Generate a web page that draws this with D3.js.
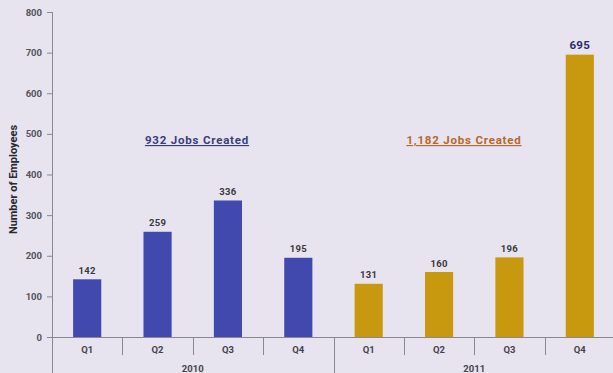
<!DOCTYPE html>
<html>
<head>
<meta charset="utf-8">
<script src="https://cdn.jsdelivr.net/npm/d3@7"></script>
<style>
  html, body { margin: 0; padding: 0; background: #e7e4ef; }
  svg { display: block; }
  text { font-family: "Roboto", "DejaVu Sans", sans-serif; }
</style>
</head>
<body>
<svg id="chart" width="613" height="373"></svg>
<script>
// Jobs created per quarter
const years = ["2010", "2011"];
const quarters = ["Q1", "Q2", "Q3", "Q4"];
const jobs2010 = [142, 259, 336, 195];
const jobs2011 = [131, 160, 196, 695];
const yTicks = [0, 100, 200, 300, 400, 500, 600, 700, 800];
const totals = ["932 Jobs Created", "1,182 Jobs Created"];
const yearColors = ["#4148ae", "#c8990f"];
const totalColors = ["#3b3d7c", "#b4682b"];

const rows = [];
years.forEach((yr, i) => {
  const vals = i === 0 ? jobs2010 : jobs2011;
  quarters.forEach((q, j) => rows.push({ key: yr + "-" + q, year: yr, yi: i, q, value: vals[j] }));
});
const maxVal = d3.max(rows, r => r.value);

const svg = d3.select("#chart");
const plotLeft = 52, plotRight = 615, plotTop = 12, plotBase = 337;

const x = d3.scaleBand().domain(rows.map(d => d.key)).range([plotLeft, plotRight]).paddingInner(0.6).paddingOuter(0.3);
const xb = d3.scaleBand().domain(rows.map(d => d.key)).range([plotLeft, plotRight]);
const y = d3.scaleLinear().domain([0, 800]).range([plotBase, plotTop]);

// y axis
const yAxis = svg.append("g").attr("transform", `translate(${plotLeft},0)`)
  .call(d3.axisLeft(y).tickValues(yTicks).tickSize(5).tickPadding(5));
yAxis.select(".domain").remove();
yAxis.selectAll(".tick line").attr("stroke", "#8a8790");
yAxis.selectAll(".tick text").attr("fill", "#55535c").attr("font-size", 9.5).attr("font-weight", 700);
svg.append("line").attr("x1", plotLeft + 0.5).attr("x2", plotLeft + 0.5).attr("y1", plotTop).attr("y2", 373)
  .attr("stroke", "#8a8790").attr("stroke-width", 1);

svg.append("text")
  .attr("transform", `translate(17,${(plotTop + plotBase) / 2 + 5}) rotate(-90)`)
  .attr("text-anchor", "middle").attr("font-size", 11).attr("font-weight", 700).attr("fill", "#2a2930")
  .text("Number of Employees");

// baseline and quarter separators
svg.append("line").attr("x1", plotLeft).attr("x2", 613).attr("y1", plotBase + 0.5).attr("y2", plotBase + 0.5)
  .attr("stroke", "#8a8790");
rows.forEach((d, i) => {
  if (i === 0) return;
  const sx = Math.round(xb(d.key)) + 0.5;
  svg.append("line").attr("x1", sx).attr("x2", sx).attr("y1", plotBase)
    .attr("y2", d.q === "Q1" ? 373 : 355).attr("stroke", "#8a8790");
});

// bars
svg.selectAll("rect.bar").data(rows).join("rect").attr("class", "bar")
  .attr("x", d => x(d.key)).attr("width", x.bandwidth())
  .attr("y", d => y(d.value)).attr("height", d => y(0) - y(d.value))
  .attr("fill", d => yearColors[d.yi]);

// value labels
svg.selectAll("text.val").data(rows).join("text").attr("class", "val")
  .attr("x", d => x(d.key) + x.bandwidth() / 2)
  .attr("y", d => y(d.value) - 5.5)
  .attr("text-anchor", "middle")
  .attr("font-size", d => d.value === maxVal ? 11.5 : 9.5)
  .attr("font-weight", 700)
  .attr("letter-spacing", 0.3)
  .attr("fill", d => d.value === maxVal ? "#2a2a6e" : "#3a3940")
  .text(d => d.value);

// quarter labels
svg.selectAll("text.q").data(rows).join("text").attr("class", "q")
  .attr("x", d => xb(d.key) + xb.bandwidth() / 2).attr("y", 353)
  .attr("text-anchor", "middle").attr("font-size", 9.5).attr("font-weight", 700).attr("fill", "#45434c")
  .text(d => d.q);

// year labels and totals
const totalCenters = [197, 464];
years.forEach((yr, i) => {
  const first = xb(yr + "-Q1"), last = xb(yr + "-Q4") + xb.bandwidth();
  svg.append("text").attr("x", (first + last) / 2).attr("y", 372)
    .attr("text-anchor", "middle").attr("font-size", 9.5).attr("font-weight", 700).attr("fill", "#45434c")
    .text(yr);
  svg.append("text").attr("x", totalCenters[i]).attr("y", 144)
    .attr("text-anchor", "middle").attr("font-size", 11.5).attr("font-weight", 700)
    .attr("letter-spacing", 0.8).attr("fill", totalColors[i])
    .attr("text-decoration", "underline")
    .text(totals[i]);
});
</script>
</body>
</html>
